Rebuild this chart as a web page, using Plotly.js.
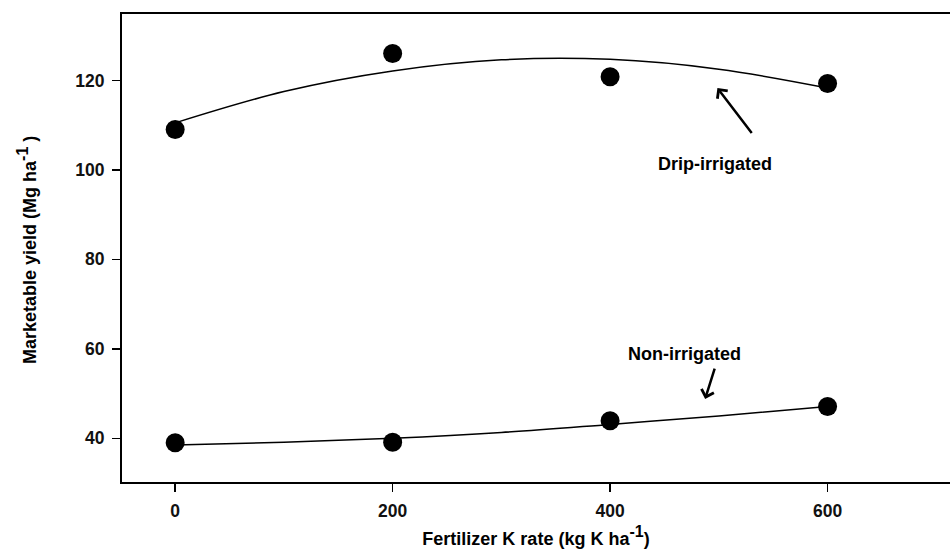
<!DOCTYPE html>
<html>
<head>
<meta charset="utf-8">
<script src="https://cdn.plot.ly/plotly-3.0.1.min.js"></script>
<style>
  html, body { margin: 0; padding: 0; background: #fff; }
  #chart { width: 950px; height: 554px; }
</style>
</head>
<body>
<div id="chart"></div>
<script>
// Potassium rate (kg K/ha)
const kRates = [0, 200, 400, 600];

// Observed marketable yield (Mg/ha)
const dripYield = [109.0, 126.0, 120.8, 119.3];
const nonIrrYield = [39.0, 39.1, 43.9, 47.1];

// Fitted response curves, sampled along the K-rate axis
const curveRates = [0, 100, 200, 300, 400, 500, 600];
const dripCurve = [110.5, 117.5, 122.1, 124.6, 124.7, 122.5, 118.3];
const nonIrrCurve = [38.5, 39.1, 40.0, 41.3, 43.1, 45.0, 47.1];

const xTicks = [0, 200, 400, 600];
const yTicks = [40, 60, 80, 100, 120];

const FONT = 'Liberation Sans, Arial, Helvetica, sans-serif';
// Superscript exponent kept close to full text size
const PER_HA = 'ha<sup><span style="font-size:16px">-1</span></sup>';

const curveStyle = { color: '#000', width: 1.5, shape: 'spline', smoothing: 1 };
const markerStyle = { color: '#000', size: 19, symbol: 'circle', line: { width: 0 } };

const traces = [
  { x: curveRates, y: dripCurve, mode: 'lines', line: curveStyle, hoverinfo: 'skip' },
  { x: curveRates, y: nonIrrCurve, mode: 'lines', line: curveStyle, hoverinfo: 'skip' },
  { x: kRates, y: dripYield, mode: 'markers', marker: markerStyle, name: 'Drip-irrigated' },
  { x: kRates, y: nonIrrYield, mode: 'markers', marker: markerStyle, name: 'Non-irrigated' }
];

const labelFont = { family: FONT, size: 18, color: '#000', weight: 700 };

// Pointer arrows from each label toward its curve
const arrow = (x, y, ax, ay) => ({
  x: x, y: y, ax: ax, ay: ay, xref: 'x', yref: 'y', axref: 'x', ayref: 'y',
  text: '', showarrow: true, arrowhead: 4, arrowsize: 1, arrowwidth: 2.5,
  arrowcolor: '#000', standoff: 0, startstandoff: 0
});

const layout = {
  width: 950,
  height: 554,
  margin: { l: 121.5, r: 0, t: 14, b: 72 },
  paper_bgcolor: '#fff',
  plot_bgcolor: '#fff',
  showlegend: false,
  xaxis: {
    range: [-48.9, 712.6],
    tickvals: xTicks,
    ticktext: xTicks.map(String),
    ticks: 'outside', ticklen: 8, tickwidth: 1.5, tickcolor: '#000',
    ticklabelstandoff: 4,
    showline: true, linewidth: 2, linecolor: '#000', mirror: true,
    showgrid: false, zeroline: false,
    tickfont: { family: FONT, size: 17.5, color: '#111', weight: 700 },
    title: {
      text: 'Fertilizer K rate (kg K ' + PER_HA + ')',
      font: { family: FONT, size: 18, color: '#000', weight: 700 },
      standoff: 12
    }
  },
  yaxis: {
    range: [30.22, 134.84],
    tickvals: yTicks,
    ticktext: yTicks.map(String),
    ticks: 'outside', ticklen: 8, tickwidth: 1.5, tickcolor: '#000',
    ticklabelstandoff: 4,
    showline: true, linewidth: 2, linecolor: '#000', mirror: false,
    showgrid: false, zeroline: false,
    tickfont: { family: FONT, size: 17.5, color: '#111', weight: 700 }
  },
  annotations: [
    {
      text: 'Marketable yield (Mg ' + PER_HA + ' )',
      xref: 'paper', yref: 'paper', x: -0.114, y: 0.495,
      xanchor: 'center', yanchor: 'middle', textangle: -90, showarrow: false,
      font: labelFont
    },
    {
      text: 'Drip-irrigated', xref: 'x', yref: 'y', x: 496.6, y: 101.2,
      xanchor: 'center', yanchor: 'middle', showarrow: false, font: labelFont
    },
    {
      text: 'Non-irrigated', xref: 'x', yref: 'y', x: 468.1, y: 58.9,
      xanchor: 'center', yanchor: 'middle', showarrow: false, font: labelFont
    },
    arrow(498.7, 118.3, 531.3, 107.9),
    arrow(487.4, 48.8, 496.6, 55.9)
  ]
};

Plotly.newPlot('chart', traces, layout, { displayModeBar: false, staticPlot: true });
</script>
</body>
</html>
